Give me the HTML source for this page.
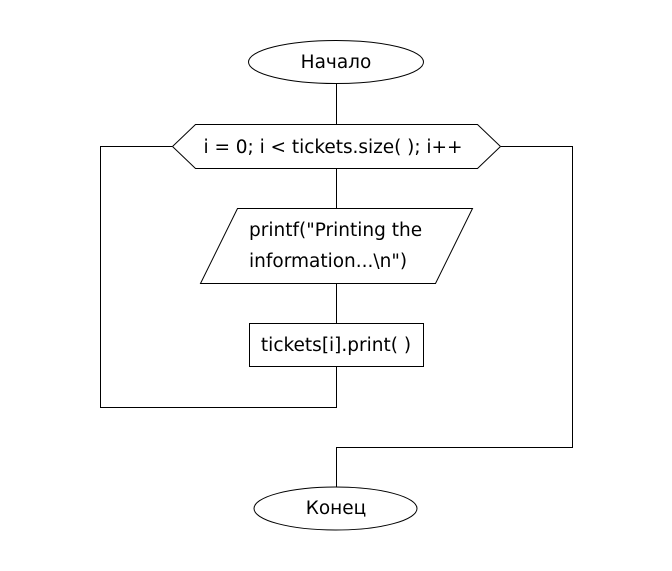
<!DOCTYPE html>
<html><head><meta charset="utf-8"><style>
html,body{margin:0;padding:0;background:#fff;width:672px;height:571px;overflow:hidden}
text{font-family:"DejaVu Sans","Liberation Sans",sans-serif;font-size:18.5px;fill:#000}
</style></head><body>
<svg width="672" height="571" viewBox="0 0 672 571" xmlns="http://www.w3.org/2000/svg">
<g fill="none" stroke="#000" stroke-width="1">
<ellipse cx="336" cy="62" rx="87.5" ry="21.5" fill="#fff"/>
<line x1="336.5" y1="83" x2="336.5" y2="124"/>
<polygon points="172.5,146.5 195.5,124.5 477.5,124.5 500.5,146.5 477.5,168.5 195.5,168.5" fill="#fff"/>
<line x1="336.5" y1="169" x2="336.5" y2="208"/>
<polygon points="237.5,208.5 472.5,208.5 435.5,283.5 200.5,283.5" fill="#fff"/>
<line x1="336.5" y1="284" x2="336.5" y2="323"/>
<rect x="249.5" y="323.5" width="174" height="43" fill="#fff"/>
<polyline points="336.5,367 336.5,407.5 100.5,407.5 100.5,146.5 172,146.5"/>
<polyline points="501,146.5 572.5,146.5 572.5,447.5 336.5,447.5 336.5,487"/>
<ellipse cx="335.5" cy="508.5" rx="81.5" ry="21.5" fill="#fff"/>
</g>
<text x="336" y="68" text-anchor="middle">Начало</text>
<text x="333" y="153" text-anchor="middle" textLength="259">i = 0; i &lt; tickets.size( ); i++</text>
<text x="249" y="236">printf("Printing the</text>
<text x="249" y="267">information...\n")</text>
<text x="336" y="351" text-anchor="middle">tickets[i].print( )</text>
<text x="336" y="514" text-anchor="middle">Конец</text>
</svg>
</body></html>
